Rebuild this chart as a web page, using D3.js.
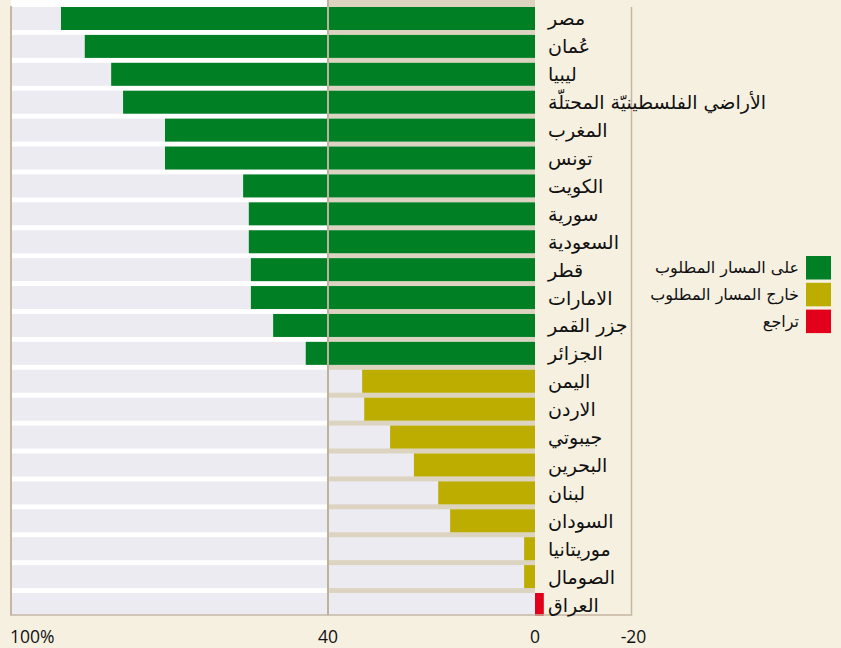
<!DOCTYPE html>
<html>
<head>
<meta charset="utf-8">
<script src="https://cdn.jsdelivr.net/npm/d3@7/dist/d3.min.js"></script>
<style>
  html, body { margin: 0; padding: 0; background: #f6f0e0; }
  svg { display: block; }
</style>
</head>
<body>
<svg id="chart" width="841" height="648"></svg>
<script>
// ---- data ----
const countries = ["مصر", "عُمان", "ليبيا", "الأراضي الفلسطينيّة المحتلّة", "المغرب", "تونس", "الكويت", "سورية", "السعودية", "قطر", "الامارات", "جزر القمر", "الجزائر", "اليمن", "الاردن", "جيبوتي", "البحرين", "لبنان", "السودان", "موريتانيا", "الصومال", "العراق"];
const values = [91.6, 87.0, 81.9, 79.6, 71.5, 71.5, 56.4, 55.3, 55.3, 54.9, 54.9, 50.6, 44.3, 33.4, 33.0, 28.0, 23.4, 18.7, 16.4, 2.1, 2.1, -1.7];
const status = ["on", "on", "on", "on", "on", "on", "on", "on", "on", "on", "on", "on", "on", "off", "off", "off", "off", "off", "off", "off", "off", "back"];
const statusKeys = ["on", "off", "back"];
const statusLabels = ["على المسار المطلوب", "خارج المسار المطلوب", "تراجع"];
const tickValues = [100, 40, 0, -20];
const tickLabels = ["100%", "40", "0", "-20"];

// ---- styles ----
const colors = { on: "#007f24", off: "#bcad00", back: "#e2001a" };
const bg = "#f6f0e0";
const bandFill = "#ebebf1";
const midFill = "#dcd4c0";
const lineCol = "#c5b7a3";
const arabicFont = "'DejaVu Sans', sans-serif";
const numFont = "'Open Sans', sans-serif";

const svg = d3.select("#chart");
svg.append("rect").attr("width", 841).attr("height", 648).attr("fill", bg);

const frameL = 11, frameR = 631.5, frameT = 0, frameB = 615;

const x = d3.scaleLinear().domain([100, -20]).range([17.5, 638.5]);
const y = d3.scaleBand().domain(countries).range([7, 616]).paddingInner(0.176).paddingOuter(0);

// zone backgrounds
svg.append("rect").attr("x", frameL).attr("y", frameT)
  .attr("width", x(40) - frameL).attr("height", frameB - frameT).attr("fill", "#ffffff");
svg.append("rect").attr("x", x(40)).attr("y", frameT)
  .attr("width", x(0) - x(40)).attr("height", frameB - frameT).attr("fill", midFill);

// row bands
svg.append("g").selectAll("rect").data(countries).join("rect")
  .attr("x", frameL).attr("y", d => y(d))
  .attr("width", x(0) - frameL).attr("height", y.bandwidth())
  .attr("fill", bandFill);

// bars
svg.append("g").selectAll("rect").data(countries).join("rect")
  .attr("x", (d, i) => Math.min(x(values[i]), x(0)))
  .attr("y", d => y(d))
  .attr("width", (d, i) => Math.abs(x(values[i]) - x(0)))
  .attr("height", y.bandwidth())
  .attr("fill", (d, i) => colors[status[i]]);

// frame lines
svg.append("line").attr("x1", frameL).attr("x2", frameL).attr("y1", 6).attr("y2", frameB)
  .attr("stroke", lineCol).attr("stroke-width", 2);
svg.append("line").attr("x1", frameR).attr("x2", frameR).attr("y1", 7).attr("y2", frameB)
  .attr("stroke", lineCol).attr("stroke-width", 1.5);
svg.append("line").attr("x1", frameL - 1).attr("x2", frameR + 0.75).attr("y1", frameB).attr("y2", frameB)
  .attr("stroke", lineCol).attr("stroke-width", 1.5);
svg.append("line").attr("x1", x(40)).attr("x2", x(40)).attr("y1", frameT).attr("y2", frameB)
  .attr("stroke", "#bfb19c").attr("stroke-width", 2);

// country labels
svg.append("g").selectAll("text").data(countries).join("text")
  .attr("x", x(0) + 13)
  .attr("y", d => y(d) + y.bandwidth() / 2 + 7)
  .attr("text-anchor", "start")
  .attr("direction", "ltr")
  .attr("font-family", arabicFont)
  .attr("font-size", 19)
  .attr("fill", "#111")
  .text(d => d);

// x tick labels
const anchors = ["start", "middle", "middle", "middle"];
const dxs = [-7.5, 0, 0, -5];
svg.append("g").selectAll("text").data(tickValues).join("text")
  .attr("x", (d, i) => x(d) + dxs[i])
  .attr("y", 643)
  .attr("text-anchor", (d, i) => anchors[i])
  .attr("font-family", numFont)
  .attr("font-size", 17.5)
  .attr("fill", "#111")
  .text((d, i) => tickLabels[i]);

// legend
const legend = svg.append("g");
statusKeys.forEach((k, i) => {
  legend.append("rect").attr("x", 806).attr("y", 256 + i * 26.8)
    .attr("width", 25).attr("height", 23.5).attr("fill", colors[k]);
  legend.append("text").attr("x", 799).attr("y", 256 + i * 26.8 + 17)
    .attr("text-anchor", "end").attr("direction", "ltr")
    .attr("font-family", arabicFont).attr("font-size", 16).attr("fill", "#111")
    .text(statusLabels[i]);
});
</script>
</body>
</html>
